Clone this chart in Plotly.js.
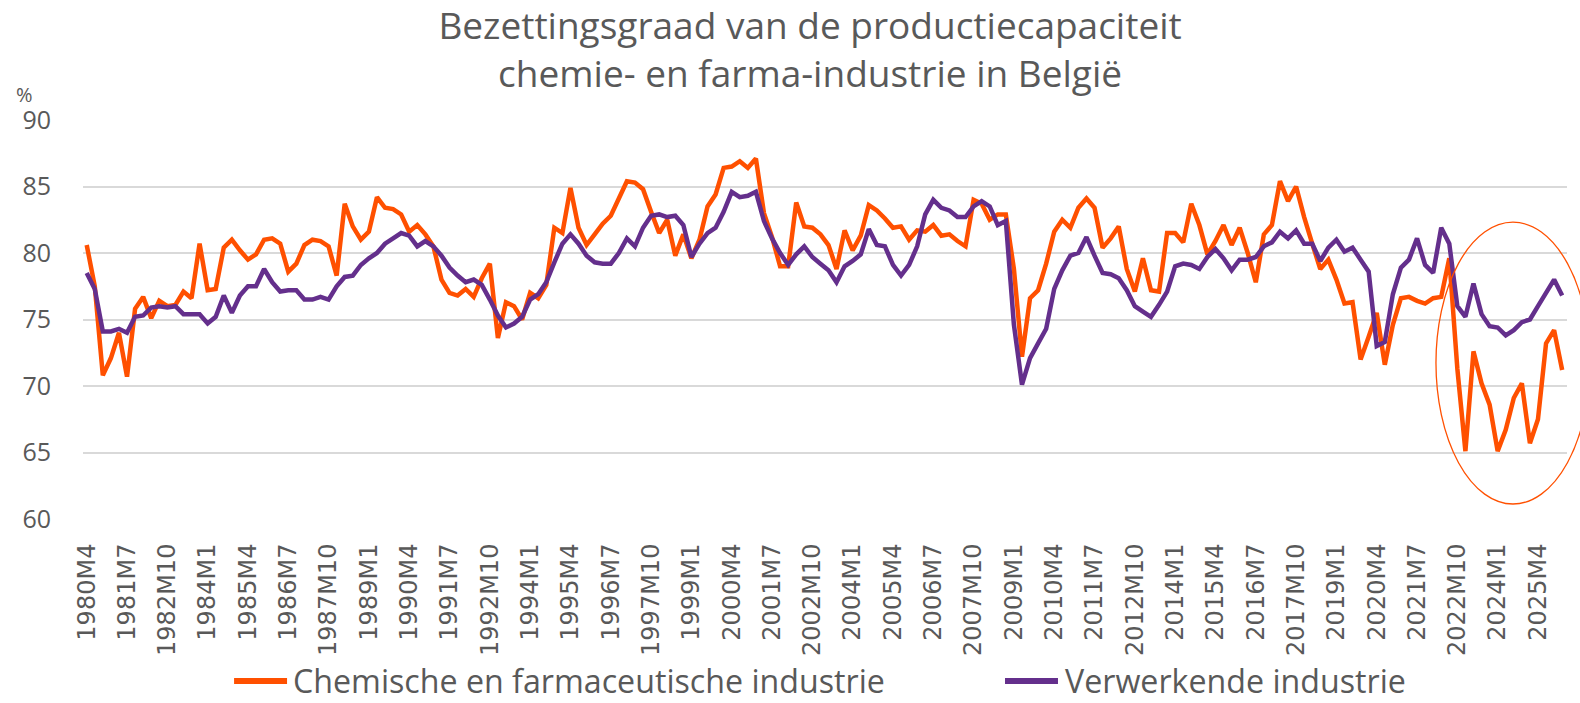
<!DOCTYPE html>
<html><head><meta charset="utf-8">
<script src="https://cdn.plot.ly/plotly-3.0.1.min.js"></script>
<style>html,body{margin:0;padding:0;background:#fff}#chart{width:1580px;height:703px}</style>
</head><body><div id="chart"></div>
<script>
const quarters = [
'1980M4','1980M7','1980M10',
'1981M1','1981M4','1981M7','1981M10','1982M1','1982M4','1982M7','1982M10',
'1983M1','1983M4','1983M7','1983M10','1984M1','1984M4','1984M7','1984M10',
'1985M1','1985M4','1985M7','1985M10','1986M1','1986M4','1986M7','1986M10',
'1987M1','1987M4','1987M7','1987M10','1988M1','1988M4','1988M7','1988M10',
'1989M1','1989M4','1989M7','1989M10','1990M1','1990M4','1990M7','1990M10',
'1991M1','1991M4','1991M7','1991M10','1992M1','1992M4','1992M7','1992M10',
'1993M1','1993M4','1993M7','1993M10','1994M1','1994M4','1994M7','1994M10',
'1995M1','1995M4','1995M7','1995M10','1996M1','1996M4','1996M7','1996M10',
'1997M1','1997M4','1997M7','1997M10','1998M1','1998M4','1998M7','1998M10',
'1999M1','1999M4','1999M7','1999M10','2000M1','2000M4','2000M7','2000M10',
'2001M1','2001M4','2001M7','2001M10','2002M1','2002M4','2002M7','2002M10',
'2003M1','2003M4','2003M7','2003M10','2004M1','2004M4','2004M7','2004M10',
'2005M1','2005M4','2005M7','2005M10','2006M1','2006M4','2006M7','2006M10',
'2007M1','2007M4','2007M7','2007M10','2008M1','2008M4','2008M7','2008M10',
'2009M1','2009M4','2009M7','2009M10','2010M1','2010M4','2010M7','2010M10',
'2011M1','2011M4','2011M7','2011M10','2012M1','2012M4','2012M7','2012M10',
'2013M1','2013M4','2013M7','2013M10','2014M1','2014M4','2014M7','2014M10',
'2015M1','2015M4','2015M7','2015M10','2016M1','2016M4','2016M7','2016M10',
'2017M1','2017M4','2017M7','2017M10','2018M1','2018M4','2018M7','2018M10',
'2019M1','2019M4','2019M7','2019M10','2020M1','2020M4','2020M7','2020M10',
'2021M1','2021M4','2021M7','2021M10','2022M1','2022M4','2022M7','2022M10',
'2023M1','2023M4','2023M7','2023M10','2024M1','2024M4','2024M7','2024M10',
'2025M1','2025M4','2025M7','2025M10','2026M1'
];

const chemie = [
80.6,77.5,70.8,72.1,74.0,70.7,75.8,76.7,75.1,76.4,
76.0,76.1,77.1,76.6,80.7,77.2,77.3,80.4,81.0,80.2,
79.5,79.9,81.0,81.1,80.7,78.6,79.2,80.6,81.0,80.9,
80.5,78.3,83.7,82.0,81.0,81.6,84.2,83.4,83.3,82.9,
81.6,82.1,81.4,80.5,78.0,77.0,76.8,77.3,76.7,78.1,
79.2,73.6,76.3,76.0,75.0,77.0,76.6,77.6,81.9,81.5,
84.9,81.9,80.6,81.4,82.2,82.8,84.1,85.4,85.3,84.8,
83.1,81.5,82.5,79.8,81.4,79.6,81.0,83.5,84.4,86.4,
86.5,86.9,86.4,87.1,83.0,81.2,79.0,79.0,83.8,82.0,
81.9,81.4,80.6,78.8,81.7,80.2,81.3,83.6,83.2,82.6,
81.9,82.0,81.0,81.7,81.6,82.1,81.3,81.4,80.9,80.5,
84.0,83.7,82.5,82.9,82.9,78.8,72.2,76.6,77.2,79.2,
81.6,82.5,81.9,83.4,84.1,83.4,80.4,81.1,82.0,78.8,
77.1,79.6,77.2,77.1,81.5,81.5,80.8,83.7,82.1,79.9,
80.9,82.1,80.6,81.9,80.0,77.8,81.4,82.1,85.4,83.9,
85.0,82.7,80.7,78.8,79.5,78.0,76.2,76.3,72.0,73.7,
75.5,71.6,74.6,76.6,76.7,76.4,76.2,76.6,76.7,79.6,
71.3,65.1,72.6,70.2,68.6,65.1,66.7,69.1,70.2,65.7,
67.5,73.2,74.2,71.2
];

const verwerkende = [
78.5,77.3,74.1,74.1,74.3,74.0,75.2,75.3,75.9,76.0,
75.9,76.0,75.4,75.4,75.4,74.7,75.2,76.8,75.5,76.8,
77.5,77.5,78.8,77.8,77.1,77.2,77.2,76.5,76.5,76.7,
76.5,77.5,78.2,78.3,79.1,79.6,80.0,80.7,81.1,81.5,
81.3,80.5,80.9,80.5,79.8,78.9,78.3,77.8,78.0,77.6,
76.5,75.3,74.4,74.7,75.2,76.5,76.9,77.8,79.3,80.7,
81.4,80.7,79.8,79.3,79.2,79.2,80.0,81.1,80.5,81.9,
82.8,82.9,82.7,82.8,82.1,79.7,80.7,81.5,81.9,83.1,
84.6,84.2,84.3,84.6,82.4,81.1,80.0,79.1,79.9,80.5,
79.7,79.2,78.7,77.8,79.0,79.4,79.9,81.8,80.6,80.5,
79.1,78.3,79.1,80.5,82.9,84.0,83.4,83.2,82.7,82.7,
83.5,83.9,83.5,82.1,82.4,74.6,70.1,72.1,73.2,74.3,
77.3,78.7,79.8,80.0,81.2,79.8,78.5,78.4,78.1,77.2,
76.0,75.6,75.2,76.1,77.1,79.0,79.2,79.1,78.8,79.7,
80.3,79.6,78.7,79.5,79.5,79.7,80.5,80.8,81.6,81.1,
81.7,80.7,80.7,79.4,80.4,81.0,80.1,80.4,79.5,78.6,
73.0,73.3,76.9,78.9,79.5,81.1,79.1,78.5,81.9,80.7,
76.0,75.2,77.7,75.4,74.5,74.4,73.8,74.2,74.8,75.0,
76.0,77.0,78.0,76.8
];

const tickLabels = [
'1980M4','1981M7','1982M10','1984M1','1985M4','1986M7','1987M10','1989M1',
'1990M4','1991M7','1992M10','1994M1','1995M4','1996M7','1997M10','1999M1',
'2000M4','2001M7','2002M10','2004M1','2005M4','2006M7','2007M10','2009M1',
'2010M4','2011M7','2012M10','2014M1','2015M4','2016M7','2017M10','2019M1',
'2020M4','2021M7','2022M10','2024M1','2025M4'
];
const yTicks = [60, 65, 70, 75, 80, 85, 90];
const seriesNames = ['Chemische en farmaceutische industrie', 'Verwerkende industrie'];
const seriesColors = ['#FF5000', '#642F8C'];
const chartTitle = 'Bezettingsgraad van de productiecapaciteit<br>chemie- en farma-industrie in België';

const grey = '#595959';
const traces = [
  {x: quarters, y: chemie, type: 'scatter', mode: 'lines', name: seriesNames[0],
   line: {color: seriesColors[0], width: 4.5, simplify: false}, hoverinfo: 'x+y'},
  {x: quarters, y: verwerkende, type: 'scatter', mode: 'lines', name: seriesNames[1],
   line: {color: seriesColors[1], width: 4.5, simplify: false}, hoverinfo: 'x+y'}
];

// legend drawn in paper coordinates below the axis
const legendY = -0.406;
const legendItems = [
  {x0: 0.1018, x1: 0.1375, tx: 0.1408},
  {x0: 0.6213, x1: 0.6570, tx: 0.6611}
];
const legendShapes = legendItems.map((it, k) => ({
  type: 'line', xref: 'paper', yref: 'paper', x0: it.x0, x1: it.x1, y0: legendY, y1: legendY,
  line: {color: seriesColors[k], width: 6}, layer: 'above'
}));
const legendTexts = legendItems.map((it, k) => ({
  text: seriesNames[k], xref: 'paper', yref: 'paper', x: it.tx, y: legendY,
  xanchor: 'left', yanchor: 'middle', showarrow: false, borderpad: 0,
  font: {family: 'Open Sans', size: 32.2, color: grey}
}));

const layout = {
  width: 1580, height: 703,
  margin: {l: 83, r: 13, t: 120, b: 184, pad: 0},
  paper_bgcolor: '#ffffff', plot_bgcolor: '#ffffff',
  title: {text: chartTitle, font: {family: 'Open Sans', size: 37, color: grey},
          x: 0.5127, xanchor: 'center', xref: 'container', y: 0.945, yanchor: 'top', yref: 'container'},
  xaxis: {type: 'category', range: [-0.46, 183.6], tickmode: 'array',
          tickvals: tickLabels, ticktext: tickLabels, tickangle: -90,
          tickfont: {family: 'DejaVu Sans', size: 24, color: grey},
          showgrid: false, zeroline: false, showline: false,
          ticks: 'outside', ticklen: 14, tickcolor: 'rgba(0,0,0,0)', automargin: false},
  yaxis: {range: [60, 90], tickmode: 'array', tickvals: yTicks,
          showgrid: true, gridcolor: '#D9D9D9', gridwidth: 1.6, zeroline: false, showline: false,
          tickfont: {family: 'Open Sans', size: 25, color: grey},
          ticks: 'outside', ticklen: 26, tickcolor: 'rgba(0,0,0,0)', automargin: false},
  showlegend: false,
  annotations: [
    {text: '%', xref: 'paper', yref: 'paper', x: -0.0391, y: 1.063, xanchor: 'center', yanchor: 'middle',
     showarrow: false, font: {family: 'Open Sans', size: 20, color: grey}}
  ].concat(legendTexts),
  shapes: [
    {type: 'circle', xref: 'paper', yref: 'paper', x0: 0.9117, x1: 1.0155, y0: 0.0376, y1: 0.744,
     line: {color: '#FF5000', width: 1.3}, fillcolor: 'rgba(0,0,0,0)', layer: 'above'}
  ].concat(legendShapes)
};

Plotly.newPlot('chart', traces, layout, {displayModeBar: false, responsive: false});
</script>
</body></html>
